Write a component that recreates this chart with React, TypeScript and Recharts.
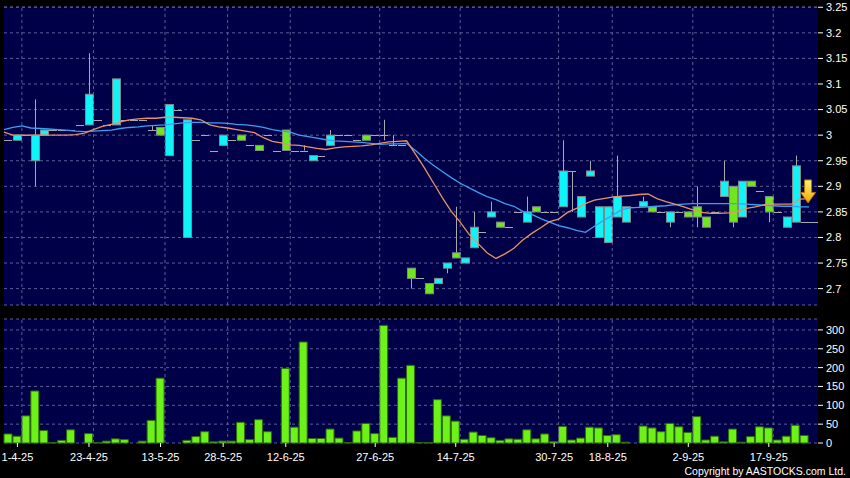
import { ComposedChart, Bar, Line, Scatter, XAxis, YAxis, CartesianGrid, ReferenceLine } from "recharts"

// daily sessions (cyan = close above open, green = close below open)
const opens = [
  2.99, 2.99, 3.0, 2.95, 3.0, 3.01, 3.01, 3.01, 3.02, 3.02,
  3.03, 3.02, 3.02, 3.03, 3.03, 3.03, 3.01, 3.015, 2.96, 3.05,
  2.8, 2.99, 3.0, 2.97, 2.98, 2.99, 3.0, 2.98, 2.98, 3.0,
  2.97, 3.01, 2.97, 2.97, 2.95, 2.96, 2.98, 3.0, 3.0, 2.99,
  3.0, 3.0, 3.0, 2.98, 2.98, 2.74, 2.72, 2.71, 2.71, 2.74,
  2.77, 2.75, 2.78, 2.81, 2.84, 2.83, 2.82, 2.85, 2.83, 2.86,
  2.85, 2.85, 2.86, 2.93, 2.84, 2.92, 2.8, 2.79, 2.84, 2.83,
  2.86, 2.86, 2.86, 2.85, 2.83, 2.85, 2.85, 2.86, 2.84, 2.85,
  2.88, 2.9, 2.84, 2.91, 2.89, 2.88, 2.85, 2.82, 2.83, 2.83,
]
const highs = [
  2.99, 3.0, 3.0, 3.07, 3.01, 3.01, 3.01, 3.01, 3.02, 3.16,
  3.03, 3.02, 3.11, 3.03, 3.03, 3.03, 3.02, 3.015, 3.06, 3.05,
  3.03, 2.99, 3.0, 2.97, 3.0, 2.99, 3.0, 2.98, 2.98, 3.0,
  2.97, 3.01, 2.97, 2.98, 2.96, 2.96, 3.01, 3.0, 3.0, 2.99,
  3.0, 3.0, 3.03, 3.0, 2.98, 2.74, 2.72, 2.71, 2.72, 2.75,
  2.86, 2.76, 2.85, 2.81, 2.87, 2.83, 2.82, 2.85, 2.88, 2.86,
  2.85, 2.85, 2.99, 2.93, 2.88, 2.95, 2.86, 2.86, 2.96, 2.86,
  2.86, 2.88, 2.86, 2.85, 2.85, 2.85, 2.85, 2.9, 2.84, 2.85,
  2.95, 2.9, 2.91, 2.91, 2.89, 2.88, 2.85, 2.84, 2.96, 2.83,
]
const lows = [
  2.99, 2.99, 3.0, 2.9, 3.0, 3.01, 3.01, 3.01, 3.02, 3.02,
  3.03, 3.02, 3.02, 3.03, 3.03, 3.03, 3.01, 3.0, 2.96, 3.05,
  2.8, 2.99, 3.0, 2.97, 2.98, 2.99, 2.99, 2.98, 2.97, 3.0,
  2.97, 2.97, 2.97, 2.97, 2.95, 2.96, 2.98, 3.0, 3.0, 2.99,
  2.99, 3.0, 2.99, 2.98, 2.98, 2.7, 2.72, 2.69, 2.71, 2.73,
  2.76, 2.75, 2.78, 2.81, 2.84, 2.82, 2.82, 2.85, 2.83, 2.85,
  2.85, 2.85, 2.86, 2.85, 2.84, 2.92, 2.8, 2.79, 2.84, 2.83,
  2.86, 2.86, 2.85, 2.85, 2.82, 2.85, 2.84, 2.82, 2.82, 2.85,
  2.88, 2.82, 2.84, 2.9, 2.89, 2.83, 2.85, 2.82, 2.83, 2.83,
]
const closes = [
  2.99, 3.0, 3.0, 3.0, 3.01, 3.01, 3.01, 3.01, 3.02, 3.08,
  3.03, 3.02, 3.11, 3.03, 3.03, 3.03, 3.01, 3.0, 3.06, 3.05,
  3.03, 2.99, 3.0, 2.97, 3.0, 2.99, 2.99, 2.98, 2.97, 3.0,
  2.97, 2.97, 2.97, 2.97, 2.96, 2.96, 3.0, 3.0, 3.0, 2.99,
  2.99, 3.0, 3.0, 2.98, 2.98, 2.72, 2.72, 2.69, 2.72, 2.75,
  2.76, 2.76, 2.82, 2.81, 2.85, 2.82, 2.82, 2.85, 2.85, 2.85,
  2.85, 2.85, 2.93, 2.93, 2.88, 2.93, 2.86, 2.86, 2.88, 2.86,
  2.86, 2.87, 2.85, 2.85, 2.85, 2.85, 2.84, 2.84, 2.82, 2.85,
  2.91, 2.83, 2.91, 2.9, 2.89, 2.85, 2.85, 2.84, 2.94, 2.83,
]
const volumes = [
  24, 18, 72, 138, 33, 1, 7, 35, 0, 25,
  1, 5, 11, 9, 0, 5, 60, 172, 0, 0,
  7, 17, 30, 3, 5, 5, 55, 9, 62, 30,
  0, 198, 42, 268, 12, 12, 37, 13, 1, 32,
  52, 25, 312, 15, 172, 206, 1, 1, 115, 72,
  58, 10, 29, 20, 14, 7, 11, 10, 35, 11,
  24, 4, 44, 8, 13, 42, 40, 20, 22, 2,
  0, 45, 40, 30, 52, 43, 28, 70, 8, 18,
  3, 37, 2, 17, 43, 40, 8, 18, 47, 20,
]
// moving averages, from the session before the first one up to the last
const maShort = [
  3.006, 3.0, 3.0, 3.0, 3.0, 3.0, 3.0, 3.0, 3.001, 3.004, 3.011,
  3.017, 3.021, 3.026, 3.03, 3.032, 3.033, 3.033, 3.035, 3.035, 3.034,
  3.033, 3.03, 3.02, 3.016, 3.014, 3.011, 3.008, 3.005, 2.995, 2.988,
  2.985, 2.981, 2.98, 2.977, 2.974, 2.972, 2.975, 2.977, 2.978, 2.979,
  2.981, 2.984, 2.987, 2.988, 2.989, 2.963, 2.936, 2.907, 2.878, 2.851,
  2.83, 2.806, 2.788, 2.77, 2.759, 2.768, 2.779, 2.795, 2.808, 2.819,
  2.831, 2.836, 2.849, 2.857, 2.866, 2.873, 2.876, 2.879, 2.881, 2.882,
  2.884, 2.885, 2.876, 2.87, 2.865, 2.86, 2.854, 2.849, 2.847, 2.847,
  2.848, 2.851, 2.857, 2.86, 2.864, 2.865, 2.865, 2.865, 2.875, 2.876,
]
const maLong = [
  3.011, 3.015, 3.018, 3.014, 3.013, 3.012, 3.011, 3.01, 3.008, 3.007, 3.008,
  3.009, 3.01, 3.013, 3.015, 3.016, 3.018, 3.019, 3.02, 3.022, 3.024,
  3.025, 3.025, 3.024, 3.024, 3.023, 3.021, 3.02, 3.018, 3.015, 3.011,
  3.008, 3.006, 3.0, 2.997, 2.994, 2.991, 2.989, 2.988, 2.987, 2.986,
  2.984, 2.982, 2.983, 2.983, 2.984, 2.97, 2.955, 2.941, 2.929, 2.917,
  2.906, 2.897, 2.888, 2.88, 2.874, 2.866, 2.861, 2.851, 2.845, 2.837,
  2.83, 2.823, 2.819, 2.814, 2.81, 2.822, 2.833, 2.843, 2.854, 2.858,
  2.859, 2.86, 2.861, 2.862, 2.864, 2.865, 2.866, 2.866, 2.866, 2.866,
  2.866, 2.866, 2.865, 2.864, 2.863, 2.862, 2.861, 2.861, 2.86, 2.86,
]

const tickIdx = [1, 9, 17, 24, 31, 41, 50, 61, 67, 76, 85]
const tickLabels = ["1-4-25", "23-4-25", "13-5-25", "28-5-25", "12-6-25", "27-6-25", "14-7-25", "30-7-25", "18-8-25", "2-9-25", "17-9-25"]
const priceTicks = [2.7, 2.75, 2.8, 2.85, 2.9, 2.95, 3, 3.05, 3.1, 3.15, 3.2, 3.25]
const volTicks = [0, 50, 100, 150, 200, 250, 300]
const arrowPrice = 2.89

const NAVY = "#000048"
const GRID = "#5c5c98"
const WICK = "#a8a8b0"
const CYAN = "#10f4f8"
const LIME = "#6ee81c"
const FONT = "'Liberation Sans', Arial, sans-serif"
const last = opens.length - 1

// one extra trailing slot stays empty, like the original
const rows = maShort.map((_, k) => ({
  i: k,
  t: k - 1,
  open: opens[k],
  high: highs[k],
  low: lows[k],
  close: closes[k],
  vol: volumes[k],
  maS: maShort[k],
  maL: maLong[k],
  arrow: k === last ? arrowPrice : undefined,
}))

function Candle(props: any) {
  const { x, y, width, height, payload } = props
  if (!payload || payload.high == null) return null
  const { open, close, high, low } = payload
  const top = Math.min(y, y + height)
  const h = Math.abs(height)
  const span = high - low
  const py = (p: number) => (span > 0 ? top + ((high - p) / span) * h : top)
  const c = Math.round(x + width / 2)
  const oY = py(open)
  const cY = py(close)
  const wick = span > 0 ? <line x1={c + 0.5} x2={c + 0.5} y1={top} y2={top + h} stroke={WICK} /> : null
  if (open === close) {
    const ly = Math.round(oY) + 0.5
    return (
      <g>
        {wick}
        <line x1={c - 4} x2={c + 4 + (payload.i === last ? 9 : 0)} y1={ly} y2={ly} stroke={WICK} />
      </g>
    )
  }
  const bTop = Math.min(oY, cY)
  const bH = Math.max(Math.abs(oY - cY), 1)
  return (
    <g>
      {wick}
      <rect x={c - 3.5} y={bTop} width={8} height={bH} fill={close > open ? CYAN : LIME} stroke="#7e8a8e" />
    </g>
  )
}

function Arrow(props: any) {
  const { cx, cy } = props
  if (!Number.isFinite(cx) || !Number.isFinite(cy)) return null
  const x = cx + 3.5
  const d = `M${x - 3.5},${cy - 11.5} L${x + 3.5},${cy - 11.5} L${x + 3.5},${cy + 1} L${x + 7.5},${cy + 1} L${x},${cy + 11.5} L${x - 7.5},${cy + 1} L${x - 3.5},${cy + 1} Z`
  return (
    <g>
      <defs>
        <linearGradient id="arrowFill" x1="0" y1="0" x2="0" y2="1">
          <stop offset="0%" stopColor="#fff47a" />
          <stop offset="100%" stopColor="#f2a600" />
        </linearGradient>
      </defs>
      <path d={d} fill="url(#arrowFill)" stroke="#b87400" strokeWidth={1} />
    </g>
  )
}

const tickStyle = { fill: "#ffffff", fontSize: 11, fontFamily: FONT }
const fmtPrice = (v: number) => String(Math.round(v * 100) / 100)
const fmtDate = (v: number) => tickLabels[tickIdx.indexOf(v)] ?? ""

export default function App() {
  return (
    <div style={{ position: "absolute", left: 0, top: 0, width: 850, height: 478, background: "#000", overflow: "hidden", fontFamily: FONT }}>
      <div style={{ position: "absolute", left: 0, top: 0 }}>
        <ComposedChart width={850} height={310} data={rows} margin={{ top: 7, right: 0, bottom: 5, left: 4 }}>
          <CartesianGrid vertical={false} stroke={GRID} strokeDasharray="3 3" fill={NAVY} fillOpacity={1} />
          <XAxis dataKey="i" type="category" hide />
          <XAxis xAxisId="ma" dataKey="t" type="number" domain={[-1, 90]} hide />
          <YAxis
            orientation="right"
            width={32}
            domain={[2.668, 3.2505]}
            ticks={priceTicks}
            interval={0}
            tickFormatter={fmtPrice}
            axisLine={false}
            tickLine={{ stroke: "#ffffff" }}
            tickSize={5}
            tickMargin={3}
            tick={tickStyle}
          />
          {tickIdx.map((k) => (
            <ReferenceLine key={k} x={k} position="end" stroke={GRID} strokeDasharray="3 3" />
          ))}
          <Bar
            dataKey={(d: any) => (d.high == null ? null : [d.low, d.high])}
            shape={Candle}
            isAnimationActive={false}
          />
          <Line xAxisId="ma" dataKey="maL" stroke="#3c9ff0" strokeWidth={1.3} dot={false} isAnimationActive={false} />
          <Line xAxisId="ma" dataKey="maS" stroke="#e8906a" strokeWidth={1.3} dot={false} isAnimationActive={false} />
          <Scatter dataKey="arrow" shape={Arrow} isAnimationActive={false} />
        </ComposedChart>
      </div>
      <div style={{ position: "absolute", left: 0, top: 310 }}>
        <ComposedChart width={850} height={168} data={rows} margin={{ top: 9, right: 0, bottom: 15, left: 4 }}>
          <CartesianGrid vertical={false} stroke={GRID} strokeDasharray="3 3" fill={NAVY} fillOpacity={1} />
          <XAxis
            dataKey="i"
            type="category"
            ticks={tickIdx}
            interval={0}
            tickFormatter={fmtDate}
            axisLine={false}
            tickLine={{ stroke: "#ffffff" }}
            tickSize={4}
            tickMargin={6}
            height={20}
            tick={tickStyle}
          />
          <YAxis
            orientation="right"
            width={32}
            domain={[0, 329]}
            ticks={volTicks}
            interval={0}
            axisLine={false}
            tickLine={{ stroke: "#ffffff" }}
            tickSize={5}
            tickMargin={3}
            tick={tickStyle}
          />
          {tickIdx.map((k) => (
            <ReferenceLine key={k} x={k} position="end" stroke={GRID} strokeDasharray="3 3" />
          ))}
          <Bar dataKey="vol" barSize={8} fill="#6cf218" stroke="#2f6a06" strokeWidth={1} isAnimationActive={false} />
        </ComposedChart>
      </div>
      <div style={{ position: "absolute", top: 465, right: 4, fontSize: 10.5, lineHeight: "12px", color: "#ffffff", whiteSpace: "nowrap" }}>
        Copyright by AASTOCKS.com Ltd.
      </div>
    </div>
  )
}
